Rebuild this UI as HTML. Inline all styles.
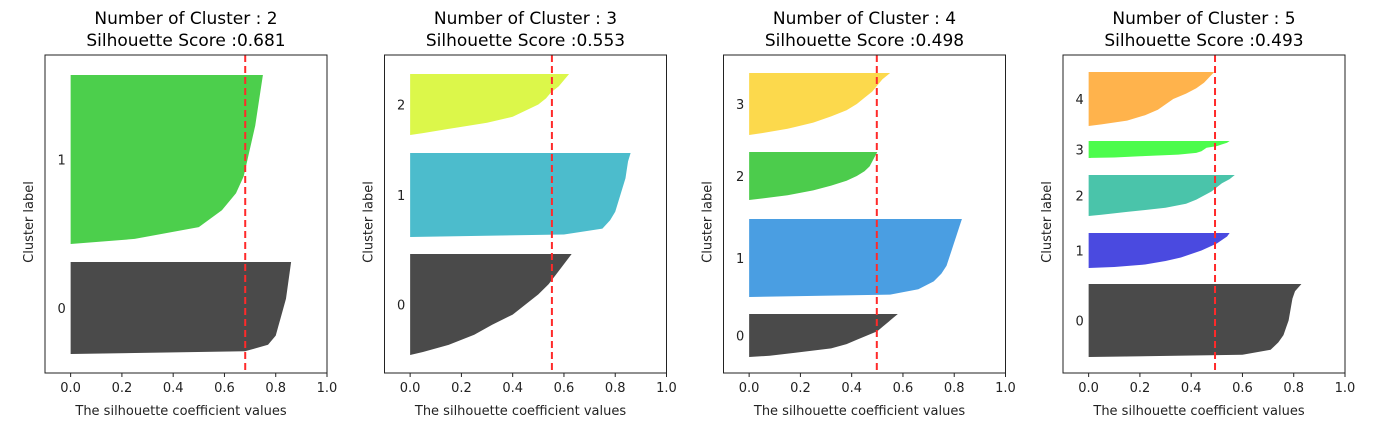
<!DOCTYPE html>
<html><head><meta charset="utf-8">
<style>
html,body{margin:0;padding:0;background:#fff;}
svg{display:block;font-family:"DejaVu Sans","Liberation Sans",sans-serif;}
</style></head>
<body>
<svg id="chart" width="1374" height="434" viewBox="0 0 1374 434" xmlns="http://www.w3.org/2000/svg"></svg>
<script>
// Data
const panelK = [2, 3, 4, 5];
const panelScores = [0.681, 0.553, 0.498, 0.493];
const xTicks = [0.0, 0.2, 0.4, 0.6, 0.8, 1.0];
const xTickLabels = ["0.0", "0.2", "0.4", "0.6", "0.8", "1.0"];
// cluster y start / size (y units: 0 bottom .. 318 top)
const clusterStarts = [[19, 129], [18, 136, 238], [16, 76, 173, 238], [16, 105, 157, 215, 247]];
const clusterSizes = [[92, 169], [101, 84, 61], [43, 78, 48, 62], [73, 35, 41, 17, 54]];
// fractions of cluster height (bottom -> top) at which profile values are sampled
const profileFractions = [0, 0.03, 0.1, 0.2, 0.3, 0.4, 0.5, 0.6, 0.7, 0.8, 0.9, 1.0];
// silhouette profiles (bottom -> top)
const profiles = [
 [[0,0.68,0.77,0.80,0.81,0.82,0.83,0.84,0.845,0.85,0.855,0.86],
  [0,0.25,0.50,0.59,0.645,0.675,0.69,0.705,0.72,0.73,0.74,0.75]],
 [[0,0.05,0.15,0.25,0.32,0.40,0.45,0.50,0.54,0.57,0.60,0.63],
  [0,0.60,0.75,0.78,0.80,0.81,0.82,0.83,0.84,0.845,0.85,0.86],
  [0,0.05,0.15,0.30,0.40,0.45,0.50,0.53,0.55,0.58,0.60,0.62]],
 [[0,0.08,0.18,0.32,0.38,0.42,0.46,0.50,0.52,0.54,0.56,0.58],
  [0,0.55,0.66,0.72,0.75,0.77,0.78,0.79,0.80,0.81,0.82,0.83],
  [0,0.05,0.15,0.25,0.32,0.38,0.42,0.45,0.47,0.48,0.49,0.50],
  [0,0.05,0.15,0.25,0.32,0.38,0.42,0.45,0.48,0.50,0.52,0.55]],
 [[0,0.60,0.71,0.74,0.76,0.77,0.78,0.785,0.79,0.795,0.805,0.83],
  [0,0.10,0.22,0.30,0.36,0.40,0.44,0.47,0.50,0.52,0.54,0.55],
  [0,0.05,0.15,0.30,0.38,0.42,0.45,0.48,0.50,0.52,0.55,0.57],
  [-0.02,0.10,0.20,0.35,0.42,0.44,0.45,0.46,0.50,0.52,0.54,0.55],
  [0,0.05,0.15,0.22,0.27,0.30,0.33,0.38,0.42,0.45,0.47,0.49]]
];
const clusterColors = [
 ["#4a4a4a","#4ccf4c"],
 ["#4a4a4a","#4cbccc","#dcf74a"],
 ["#4a4a4a","#4a9ee2","#4ccc4c","#fcd94c"],
 ["#4a4a4a","#4a4ae0","#4ac4aa","#4cfc4c","#ffb34c"]
];

const NS = "http://www.w3.org/2000/svg";
const svg = document.getElementById("chart");
function mk(tag, attrs, parent){const e=document.createElementNS(NS,tag);for(const k in attrs)e.setAttribute(k,attrs[k]);(parent||svg).appendChild(e);return e;}

const axW = 282, axTop = 55, axBot = 373, yMax = 318;
const panelLeft = [45, 384.5, 723.5, 1063];

panelK.forEach((k, p) => {
  const L = panelLeft[p];
  const xs = v => L + (v + 0.1) / 1.1 * axW;
  const ys = v => axBot - v / yMax * (axBot - axTop);
  const g = mk("g", {});
  
  

  const t1 = mk("text", {x: L + axW/2, y: 24, "text-anchor": "middle", "font-size": 17, fill: "#000"}, g);
  t1.textContent = "Number of Cluster : " + k;
  
  
  const t2 = mk("text", {x: L + axW/2, y: 46, "text-anchor": "middle", "font-size": 17, fill: "#000"}, g);
  t2.textContent = "Silhouette Score :" + panelScores[p].toFixed(3);
  
  

  for (let c = 0; c < k; c++) {
    const prof = profiles[p][c], st = clusterStarts[p][c], sz = clusterSizes[p][c];
    let pts = [];
    pts.push(xs(0) + "," + ys(st));
    prof.forEach((v, i) => { pts.push(xs(v) + "," + ys(st + sz * profileFractions[i])); });
    pts.push(xs(0) + "," + ys(st + sz));
    const poly = mk("polygon", {points: pts.join(" "), fill: clusterColors[p][c]}, g);
    
    
    const lab = mk("text", {x: xs(-0.035), y: ys(st + sz/2) + 5, "text-anchor": "middle", "font-size": 13, fill: "#222"}, g);
    lab.textContent = String(c);
    
    
  }

  const sl = mk("line", {x1: xs(panelScores[p]), x2: xs(panelScores[p]), y1: axTop, y2: axBot, stroke: "#ff2a2a", "stroke-width": 2, "stroke-dasharray": "7,4"}, g);
  
  

  const fr = mk("rect", {x: L, y: axTop, width: axW, height: axBot - axTop, fill: "none", stroke: "#222", "stroke-width": 1}, g);
  
  

  xTicks.forEach((v, i) => {
    const tk = mk("line", {x1: xs(v), x2: xs(v), y1: axBot, y2: axBot + 4, stroke: "#222"}, g);
    
    
    const tl = mk("text", {x: xs(v), y: axBot + 19, "text-anchor": "middle", "font-size": 13, fill: "#222"}, g);
    tl.textContent = xTickLabels[i];
    
    
  });

  const xl = mk("text", {x: L + axW/2 - 5, y: 415, "text-anchor": "middle", "font-size": 13, fill: "#222"}, g);
  xl.textContent = "The silhouette coefficient values";
  
  

  const yl = mk("text", {x: 0, y: 0, "text-anchor": "middle", "font-size": 13, fill: "#222", transform: "translate(" + (L - 12) + "," + ((axTop + axBot)/2 + 8) + ") rotate(-90)"}, g);
  yl.textContent = "Cluster label";
  
  
});
</script>
</body></html>
